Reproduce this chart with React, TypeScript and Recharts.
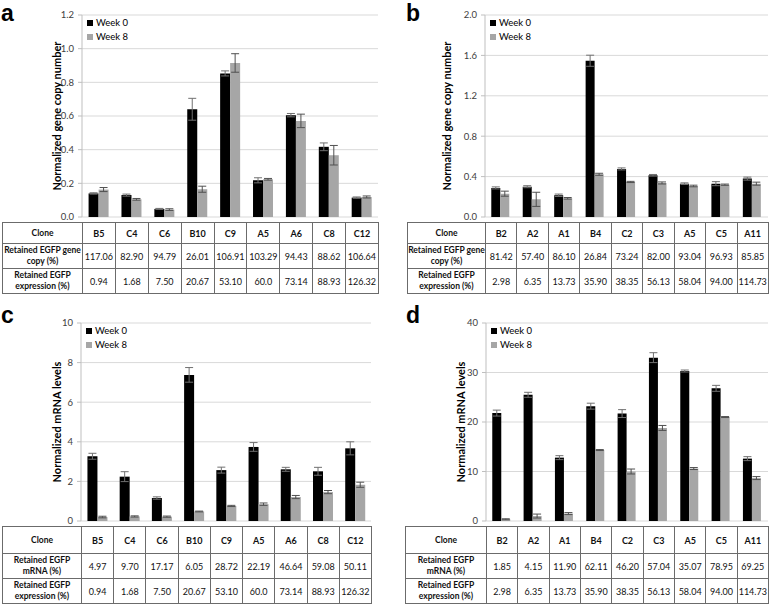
import React from 'react';
import { BarChart, Bar, XAxis, YAxis, CartesianGrid, ErrorBar, ReferenceLine, Legend } from 'recharts';

const FONT = 'Lato, "Open Sans", sans-serif';
const BLACK = '#000000';
const GRAY = '#a6a6a6';
const AXIS = '#bfbfbf';
const GRID = '#d9d9d9';

// ---- categories ----
const clonesLeft = ['B5', 'C4', 'C6', 'B10', 'C9', 'A5', 'A6', 'C8', 'C12'];
const clonesRight = ['B2', 'A2', 'A1', 'B4', 'C2', 'C3', 'A5', 'C5', 'A11'];

// ---- panel a: normalized gene copy number ----
const geneWeek0A = [0.14, 0.13, 0.048, 0.64, 0.853, 0.218, 0.605, 0.417, 0.115];
const geneWeek0ErrA = [0.004, 0.006, 0.003, 0.065, 0.015, 0.015, 0.01, 0.023, 0.004];
const geneWeek8A = [0.163, 0.105, 0.044, 0.165, 0.915, 0.224, 0.571, 0.367, 0.119];
const geneWeek8ErrA = [0.012, 0.005, 0.005, 0.018, 0.055, 0.005, 0.04, 0.058, 0.006];

// ---- panel b: normalized gene copy number ----
const geneWeek0B = [0.288, 0.3, 0.215, 1.547, 0.476, 0.413, 0.33, 0.33, 0.38];
const geneWeek0ErrB = [0.01, 0.01, 0.012, 0.055, 0.01, 0.008, 0.008, 0.02, 0.015];
const geneWeek8B = [0.231, 0.175, 0.185, 0.423, 0.347, 0.337, 0.307, 0.32, 0.33];
const geneWeek8ErrB = [0.025, 0.07, 0.008, 0.01, 0.006, 0.01, 0.008, 0.006, 0.015];

// ---- panel c: normalized mRNA levels ----
const mrnaWeek0C = [3.27, 2.24, 1.16, 7.38, 2.57, 3.74, 2.61, 2.51, 3.67];
const mrnaWeek0ErrC = [0.15, 0.25, 0.06, 0.37, 0.15, 0.22, 0.1, 0.2, 0.33];
const mrnaWeek8C = [0.2, 0.23, 0.22, 0.48, 0.76, 0.85, 1.21, 1.46, 1.83];
const mrnaWeek8ErrC = [0.04, 0.03, 0.03, 0.02, 0.03, 0.06, 0.08, 0.08, 0.13];

// ---- panel d: normalized mRNA levels ----
const mrnaWeek0D = [21.8, 25.5, 12.8, 23.2, 21.7, 33.0, 30.3, 26.8, 12.6];
const mrnaWeek0ErrD = [0.6, 0.5, 0.4, 0.6, 0.8, 1.0, 0.2, 0.6, 0.4];
const mrnaWeek8D = [0.35, 1.0, 1.5, 14.33, 10.0, 18.8, 10.6, 21.0, 8.67];
const mrnaWeek8ErrD = [0.1, 0.4, 0.2, 0.1, 0.5, 0.5, 0.2, 0.1, 0.3];

// ---- y ticks ----
const ticksA = [0, 0.2, 0.4, 0.6, 0.8, 1.0, 1.2];
const ticksB = [0, 0.4, 0.8, 1.2, 1.6, 2.0];
const ticksC = [0, 2, 4, 6, 8, 10];
const ticksD = [0, 10, 20, 30, 40];

// ---- table values ----
const geneCopyA = ['117.06', '82.90', '94.79', '26.01', '106.91', '103.29', '94.43', '88.62', '106.64'];
const expressionLeft = ['0.94', '1.68', '7.50', '20.67', '53.10', '60.0', '73.14', '88.93', '126.32'];
const geneCopyB = ['81.42', '57.40', '86.10', '26.84', '73.24', '82.00', '93.04', '96.93', '85.85'];
const expressionRight = ['2.98', '6.35', '13.73', '35.90', '38.35', '56.13', '58.04', '94.00', '114.73'];
const mrnaC = ['4.97', '9.70', '17.17', '6.05', '28.72', '22.19', '46.64', '59.08', '50.11'];
const mrnaD = ['1.85', '4.15', '11.90', '62.11', '46.20', '57.04', '35.07', '78.95', '69.25'];

function build(clones: string[], w0: number[], e0: number[], w8: number[], e8: number[]) {
  return clones.map((clone, i) => ({ clone, w0: w0[i], e0: e0[i], w8: w8[i], e8: e8[i] }));
}

function LegendBox() {
  const items: [string, string][] = [['Week 0', BLACK], ['Week 8', GRAY]];
  return (
    <div style={{ fontFamily: FONT, fontSize: 9.5, color: '#000', lineHeight: '14px' }}>
      {items.map(([t, c]) => (
        <div key={t} style={{ display: 'flex', alignItems: 'center', whiteSpace: 'nowrap' }}>
          <span style={{ display: 'inline-block', width: 6, height: 6, background: c, marginRight: 3 }} />
          {t}
        </div>
      ))}
    </div>
  );
}

type Cfg = {
  left: number; top: number; width: number; height: number;
  mt: number; mr: number; yWidth: number; tickDown: number; labelDx: number;
};

function Chart({ cfg, data, ticks, decimals, yLabel }: { cfg: Cfg; data: any[]; ticks: number[]; decimals: number; yLabel: string }) {
  const n = data.length;
  const gridTicks = Array.from({ length: n + 1 }, (_, i) => i);
  const max = ticks[ticks.length - 1];
  const renderLabel = (props: any) => {
    const vb = props.viewBox || {};
    const cx = vb.x + vb.width / 2 + cfg.labelDx;
    const cy = vb.y + vb.height / 2;
    return (
      <text
        x={cx}
        y={cy}
        transform={`rotate(-90, ${cx}, ${cy})`}
        textAnchor="middle"
        dominantBaseline="central"
        fontFamily={FONT}
        fontSize={11}
        fontWeight={700}
        fill="#000"
      >
        {yLabel}
      </text>
    );
  };
  return (
    <div style={{ position: 'absolute', left: cfg.left, top: cfg.top }}>
      <BarChart
        width={cfg.width}
        height={cfg.height}
        data={data}
        margin={{ top: cfg.mt, right: cfg.mr, bottom: 0, left: 0 }}
        barCategoryGap="20%"
        barGap={0}
      >
        <CartesianGrid vertical={false} stroke={GRID} />
        <XAxis dataKey="clone" hide />
        <XAxis
          xAxisId="grid"
          type="number"
          domain={[0, n]}
          ticks={gridTicks}
          allowDataOverflow
          tick={false}
          tickSize={cfg.tickDown}
          height={cfg.tickDown}
          stroke={AXIS}
        />
        <YAxis
          width={cfg.yWidth}
          domain={[0, max]}
          ticks={ticks}
          allowDataOverflow
          tickFormatter={(v: number) => v.toFixed(decimals)}
          tick={{ fontSize: 9.5, fill: '#404040', fontFamily: FONT }}
          tickSize={4}
          tickMargin={4}
          stroke={AXIS}
          label={renderLabel}
        />
        <ReferenceLine xAxisId="grid" x={n} stroke={AXIS} />
        <Legend
          layout="vertical"
          align="center"
          verticalAlign="middle"
          content={() => <LegendBox />}
          wrapperStyle={{ left: cfg.yWidth + 5, top: cfg.mt + 1, width: 'auto', height: 'auto' }}
        />
        <Bar dataKey="w0" name="Week 0" fill={BLACK} isAnimationActive={false}>
          <ErrorBar dataKey="e0" width={4} stroke="#707070" strokeWidth={1} direction="y" />
        </Bar>
        <Bar dataKey="w8" name="Week 8" fill={GRAY} isAnimationActive={false}>
          <ErrorBar dataKey="e8" width={4} stroke="#505050" strokeWidth={1} direction="y" />
        </Bar>
      </BarChart>
    </div>
  );
}

type Row = { header: React.ReactNode; cells: string[]; bold?: boolean };

function DataTable({ left, top, firstW, colW, heights, rows }: { left: number; top: number; firstW: number; colW: number; heights: number[]; rows: Row[] }) {
  const cell: React.CSSProperties = {
    border: '1px solid #6b6b6b',
    padding: 0,
    textAlign: 'center',
    verticalAlign: 'middle',
    fontFamily: FONT,
    fontSize: 9,
    color: '#111',
    whiteSpace: 'nowrap',
    overflow: 'hidden',
  };
  const total = firstW + colW * 9;
  return (
    <table
      style={{
        position: 'absolute', left, top, width: total, borderCollapse: 'collapse',
        tableLayout: 'fixed', background: '#fff',
      }}
    >
      <colgroup>
        <col style={{ width: firstW }} />
        {rows[0].cells.map((_, i) => <col key={i} style={{ width: colW }} />)}
      </colgroup>
      <tbody>
        {rows.map((r, ri) => (
          <tr key={ri} style={{ height: heights[ri] }}>
            <td style={{ ...cell, fontWeight: 700, fontSize: 8.5, lineHeight: '11px' }}>{r.header}</td>
            {r.cells.map((c, ci) => (
              <td key={ci} style={{ ...cell, fontWeight: r.bold ? 700 : 400 }}>{c}</td>
            ))}
          </tr>
        ))}
      </tbody>
    </table>
  );
}

const letterStyle: React.CSSProperties = {
  position: 'absolute',
  fontFamily: '"Liberation Sans", Arial, sans-serif',
  fontWeight: 700,
  fontSize: 23,
  lineHeight: 'normal',
  color: '#000',
};

export default function App() {
  const dataA = build(clonesLeft, geneWeek0A, geneWeek0ErrA, geneWeek8A, geneWeek8ErrA);
  const dataB = build(clonesRight, geneWeek0B, geneWeek0ErrB, geneWeek8B, geneWeek8ErrB);
  const dataC = build(clonesLeft, mrnaWeek0C, mrnaWeek0ErrC, mrnaWeek8C, mrnaWeek8ErrC);
  const dataD = build(clonesRight, mrnaWeek0D, mrnaWeek0ErrD, mrnaWeek8D, mrnaWeek8ErrD);

  const cfgA: Cfg = { left: 0, top: 0, width: 390, height: 222, mt: 15, mr: 12, yWidth: 82, tickDown: 5, labelDx: 15 };
  const cfgB: Cfg = { left: 390, top: 0, width: 388, height: 222, mt: 15, mr: 10, yWidth: 95, tickDown: 5, labelDx: 9 };
  const cfgC: Cfg = { left: 0, top: 300, width: 390, height: 226, mt: 23, mr: 19, yWidth: 81, tickDown: 5, labelDx: 16 };
  const cfgD: Cfg = { left: 390, top: 300, width: 388, height: 226, mt: 23, mr: 10, yWidth: 96, tickDown: 5, labelDx: 22 };

  const geneHeader = <>Retained EGFP gene<br />copy (%)</>;
  const exprHeader = <>Retained EGFP<br />expression (%)</>;
  const mrnaHeader = <>Retained EGFP<br />mRNA (%)</>;

  return (
    <div style={{ position: 'absolute', left: 0, top: 0, width: 778, height: 604, background: '#fff', overflow: 'hidden' }}>
      <Chart cfg={cfgA} data={dataA} ticks={ticksA} decimals={1} yLabel="Normalized gene copy number" />
      <Chart cfg={cfgB} data={dataB} ticks={ticksB} decimals={1} yLabel="Normalized gene copy number" />
      <Chart cfg={cfgC} data={dataC} ticks={ticksC} decimals={0} yLabel="Normalized mRNA levels" />
      <Chart cfg={cfgD} data={dataD} ticks={ticksD} decimals={0} yLabel="Normalized mRNA levels" />

      <DataTable left={2} top={222} firstW={80} colW={296 / 9} heights={[21, 25, 25]}
        rows={[
          { header: 'Clone', cells: clonesLeft, bold: true },
          { header: geneHeader, cells: geneCopyA },
          { header: exprHeader, cells: expressionLeft },
        ]} />
      <DataTable left={407} top={222} firstW={78} colW={283 / 9} heights={[21, 25, 25]}
        rows={[
          { header: 'Clone', cells: clonesRight, bold: true },
          { header: geneHeader, cells: geneCopyB },
          { header: exprHeader, cells: expressionRight },
        ]} />
      <DataTable left={2} top={526} firstW={79} colW={290 / 9} heights={[27, 25, 25]}
        rows={[
          { header: 'Clone', cells: clonesLeft, bold: true },
          { header: mrnaHeader, cells: mrnaC },
          { header: exprHeader, cells: expressionLeft },
        ]} />
      <DataTable left={405} top={526} firstW={81} colW={282 / 9} heights={[27, 25, 25]}
        rows={[
          { header: 'Clone', cells: clonesRight, bold: true },
          { header: mrnaHeader, cells: mrnaD },
          { header: exprHeader, cells: expressionRight },
        ]} />

      <div style={{ ...letterStyle, left: 1, top: 0 }}>a</div>
      <div style={{ ...letterStyle, left: 406, top: 0 }}>b</div>
      <div style={{ ...letterStyle, left: 1, top: 302 }}>c</div>
      <div style={{ ...letterStyle, left: 406, top: 302 }}>d</div>
    </div>
  );
}
